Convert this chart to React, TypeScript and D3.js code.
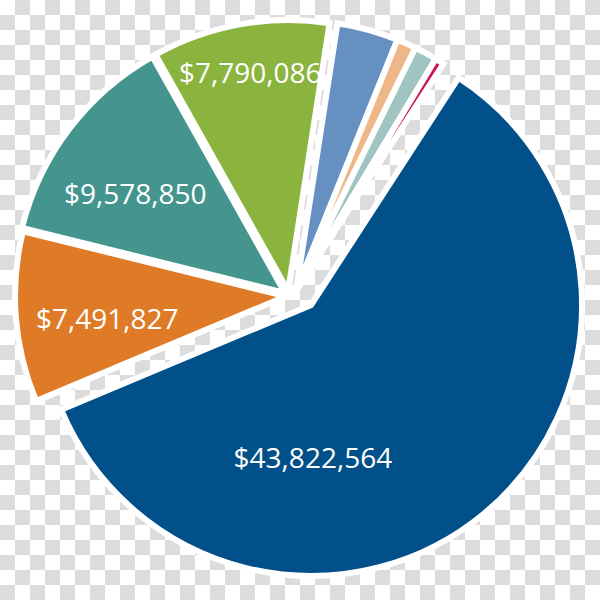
import React from 'react';
import * as d3 from 'd3';

const categories = ['A', 'B', 'C', 'D', 'E', 'F', 'G', 'H'];
const values = [43822564, 7491827, 9578850, 7790086, 2700000, 850000, 1000000, 400000];
const labels = ['$43,822,564', '$7,491,827', '$9,578,850', '$7,790,086', '', '', '', ''];
const colors = ['#02508a', '#df7b27', '#45958f', '#8bb43f', '#6690c1', '#efb788', '#a0c4c2', '#c8175a'];

// layout
const W = 600;
const H = 600;
const CX = 289;
const CY = 296;
const R = 271;
const START_DEG = 33;
const explodeDist = [23.8, 3, 5, 5, 8.6, 8.6, 8.6, 8.6];
const explodeDirDeg: (number | null)[] = [112.2, null, null, null, 54.5, 54.5, 54.5, 54.5];
const labelRadius = [152, 180, 180, 222, 0, 0, 0, 0];
const labelDirDeg: (number | null)[] = [179.3, 263, 303.7, 350.2, null, null, null, null];

export default function App() {
  const pie = d3
    .pie<number>()
    .sort(null)
    .value((d) => d)
    .startAngle((START_DEG * Math.PI) / 180)
    .endAngle((START_DEG * Math.PI) / 180 + 2 * Math.PI);
  const arcs = pie(values);
  const arc = d3.arc<d3.PieArcDatum<number>>().innerRadius(0).outerRadius(R);

  const cell = 15;
  return (
    <svg
      width={W}
      height={H}
      style={{ position: 'absolute', left: 0, top: 0 }}
      xmlns="http://www.w3.org/2000/svg"
    >
      <defs>
        <pattern id="checker" width={cell * 2} height={cell * 2} patternUnits="userSpaceOnUse">
          <rect width={cell * 2} height={cell * 2} fill="#ffffff" />
          <rect x={cell} y={0} width={cell} height={cell} fill="#dcdcdc" />
          <rect x={0} y={cell} width={cell} height={cell} fill="#dcdcdc" />
        </pattern>
      </defs>
      <rect width={W} height={H} fill="url(#checker)" />
      {arcs.map((a, i) => {
        const mid = (a.startAngle + a.endAngle) / 2;
        const dir = explodeDirDeg[i] != null ? ((explodeDirDeg[i] as number) * Math.PI) / 180 : mid;
        const dx = Math.sin(dir) * explodeDist[i];
        const dy = -Math.cos(dir) * explodeDist[i];
        return (
          <g key={categories[i]} transform={`translate(${CX + dx},${CY + dy})`}>
            <path
              d={arc(a) || ''}
              fill={colors[i]}
              stroke="#ffffff"
              strokeWidth={6}
              strokeLinejoin="miter"
            />
          </g>
        );
      })}
      {arcs.map((a, i) => {
        if (!labels[i]) return null;
        const mid = (a.startAngle + a.endAngle) / 2;
        const dir = explodeDirDeg[i] != null ? ((explodeDirDeg[i] as number) * Math.PI) / 180 : mid;
        const ox = CX + Math.sin(dir) * explodeDist[i];
        const oy = CY - Math.cos(dir) * explodeDist[i];
        const la = labelDirDeg[i] != null ? ((labelDirDeg[i] as number) * Math.PI) / 180 : mid;
        const x = ox + Math.sin(la) * labelRadius[i];
        const y = oy - Math.cos(la) * labelRadius[i];
        return (
          <text
            key={'l' + categories[i]}
            x={x}
            y={y}
            textAnchor="middle"
            dominantBaseline="central"
            fill="#ffffff"
            fontFamily="'Open Sans', sans-serif"
            fontSize={28}
          >
            {labels[i]}
          </text>
        );
      })}
    </svg>
  );
}
